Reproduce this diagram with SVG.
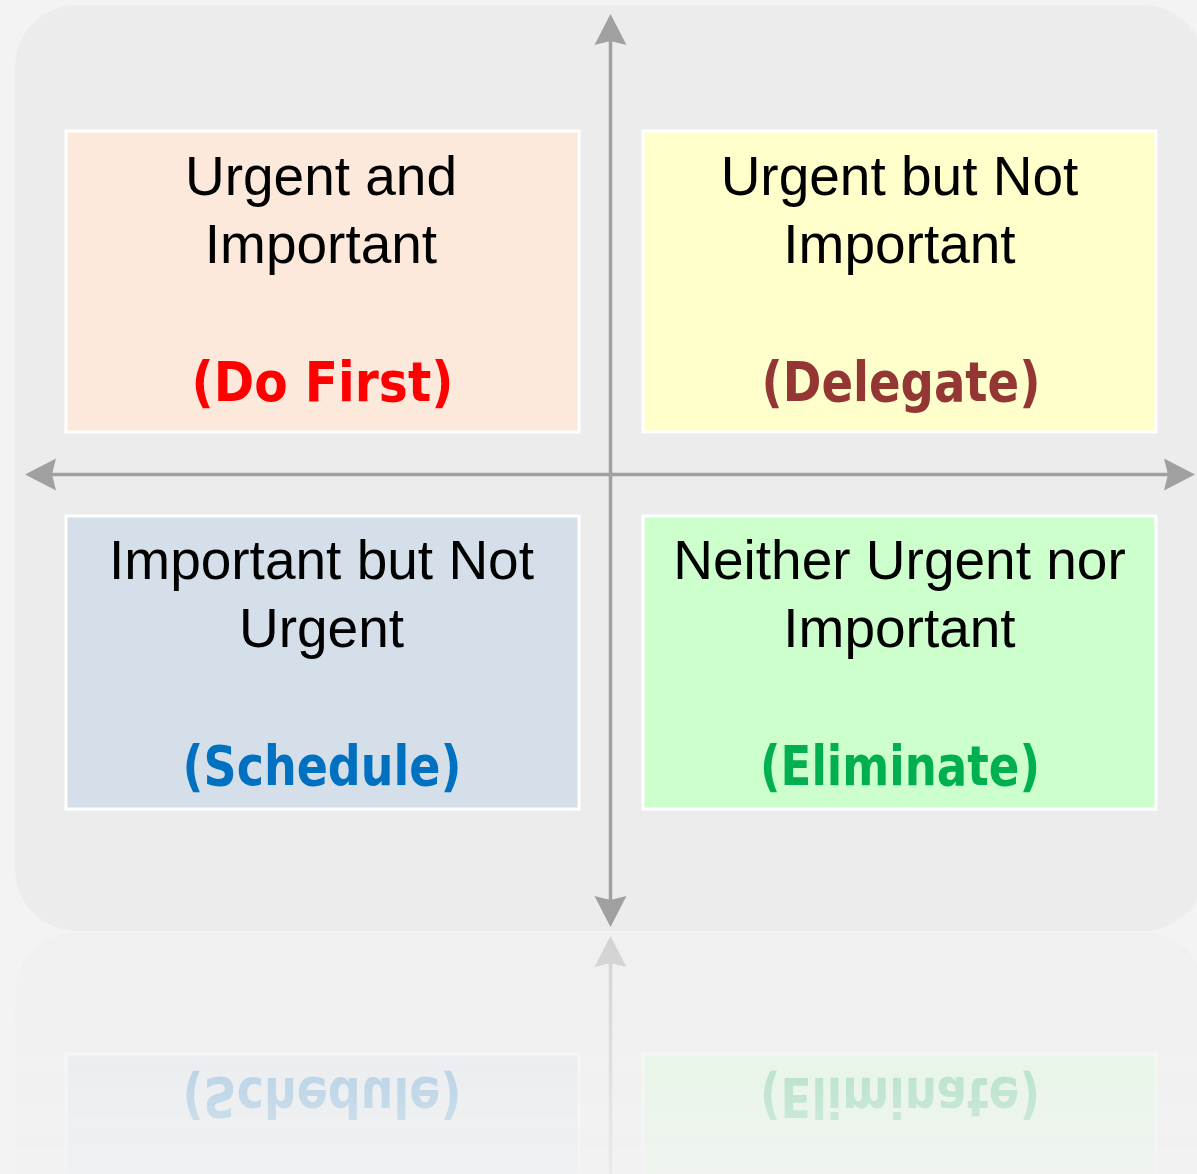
<svg xmlns="http://www.w3.org/2000/svg" xmlns:xlink="http://www.w3.org/1999/xlink" width="1197" height="1174" viewBox="0 0 1197 1174">
  <style>
    .box { stroke: #ffffff; stroke-width: 3; }
    .axis { stroke: #a0a0a0; stroke-width: 3.5; fill: none; marker-start: url(#arrow); marker-end: url(#arrow); }
    .title { font-family: "Liberation Sans", Arial, sans-serif; font-size: 55px; fill: #000000; text-anchor: middle; }
    .tag { font-family: "DejaVu Sans", sans-serif; font-weight: bold; font-size: 56px; text-anchor: middle; }
  </style>
  <defs>
    <marker id="arrow" markerUnits="userSpaceOnUse" markerWidth="34" markerHeight="34" viewBox="0 -17 34 34" refX="4" refY="0" orient="auto-start-reverse">
      <path d="M31,0 L0,-16 L4,0 L0,16 Z" fill="#a0a0a0"/>
    </marker>
    <linearGradient id="fadeGrad" gradientUnits="userSpaceOnUse" x1="0" y1="931" x2="0" y2="1174">
      <stop offset="0" stop-color="#ffffff" stop-opacity="0.4"/>
      <stop offset="1" stop-color="#ffffff" stop-opacity="0.1"/>
    </linearGradient>
    <mask id="fade" maskUnits="userSpaceOnUse" x="0" y="931" width="1197" height="243">
      <rect x="0" y="931" width="1197" height="243" fill="url(#fadeGrad)"/>
    </mask>
  </defs>

  <rect x="0" y="0" width="1197" height="1174" fill="#f3f3f3"/>

  <g id="scene">
    <rect id="panel" x="15" y="5" width="1190" height="926" rx="62" ry="62" fill="#ececec"/>

    <g id="connectors">
      <path class="axis" d="M610.5,41 L610.5,900"/>
      <path class="axis" d="M52,474.5 L1168,474.5"/>
    </g>

    <g id="do-first">
      <rect class="box" x="66" y="131" width="513" height="301" fill="#fde9dc"/>
      <text class="title" x="321" y="195">Urgent and</text>
      <text class="title" x="321" y="263">Important</text>
      <text class="tag" x="322.5" y="401" fill="#ff0000" textLength="262" lengthAdjust="spacingAndGlyphs">(Do First)</text>
    </g>

    <g id="delegate">
      <rect class="box" x="643" y="131" width="513" height="301" fill="#ffffcc"/>
      <text class="title" x="899.5" y="195">Urgent but Not</text>
      <text class="title" x="899.5" y="263">Important</text>
      <text class="tag" x="901" y="401" fill="#943634" textLength="279" lengthAdjust="spacingAndGlyphs">(Delegate)</text>
    </g>

    <g id="schedule">
      <rect class="box" x="66" y="516" width="513" height="293" fill="#d5dfea"/>
      <text class="title" x="321.5" y="579">Important but Not</text>
      <text class="title" x="321.5" y="647">Urgent</text>
      <text class="tag" x="322" y="785" fill="#0070c0" textLength="279" lengthAdjust="spacingAndGlyphs">(Schedule)</text>
    </g>

    <g id="eliminate">
      <rect class="box" x="643" y="516" width="513" height="293" fill="#ccffcc"/>
      <text class="title" x="899.5" y="579">Neither Urgent nor</text>
      <text class="title" x="899.5" y="647">Important</text>
      <text class="tag" x="900" y="785" fill="#00b050" textLength="280" lengthAdjust="spacingAndGlyphs">(Eliminate)</text>
    </g>
  </g>

  <g id="reflection" mask="url(#fade)">
    <use xlink:href="#scene" href="#scene" transform="translate(0,1863) scale(1,-1)"/>
  </g>
</svg>
